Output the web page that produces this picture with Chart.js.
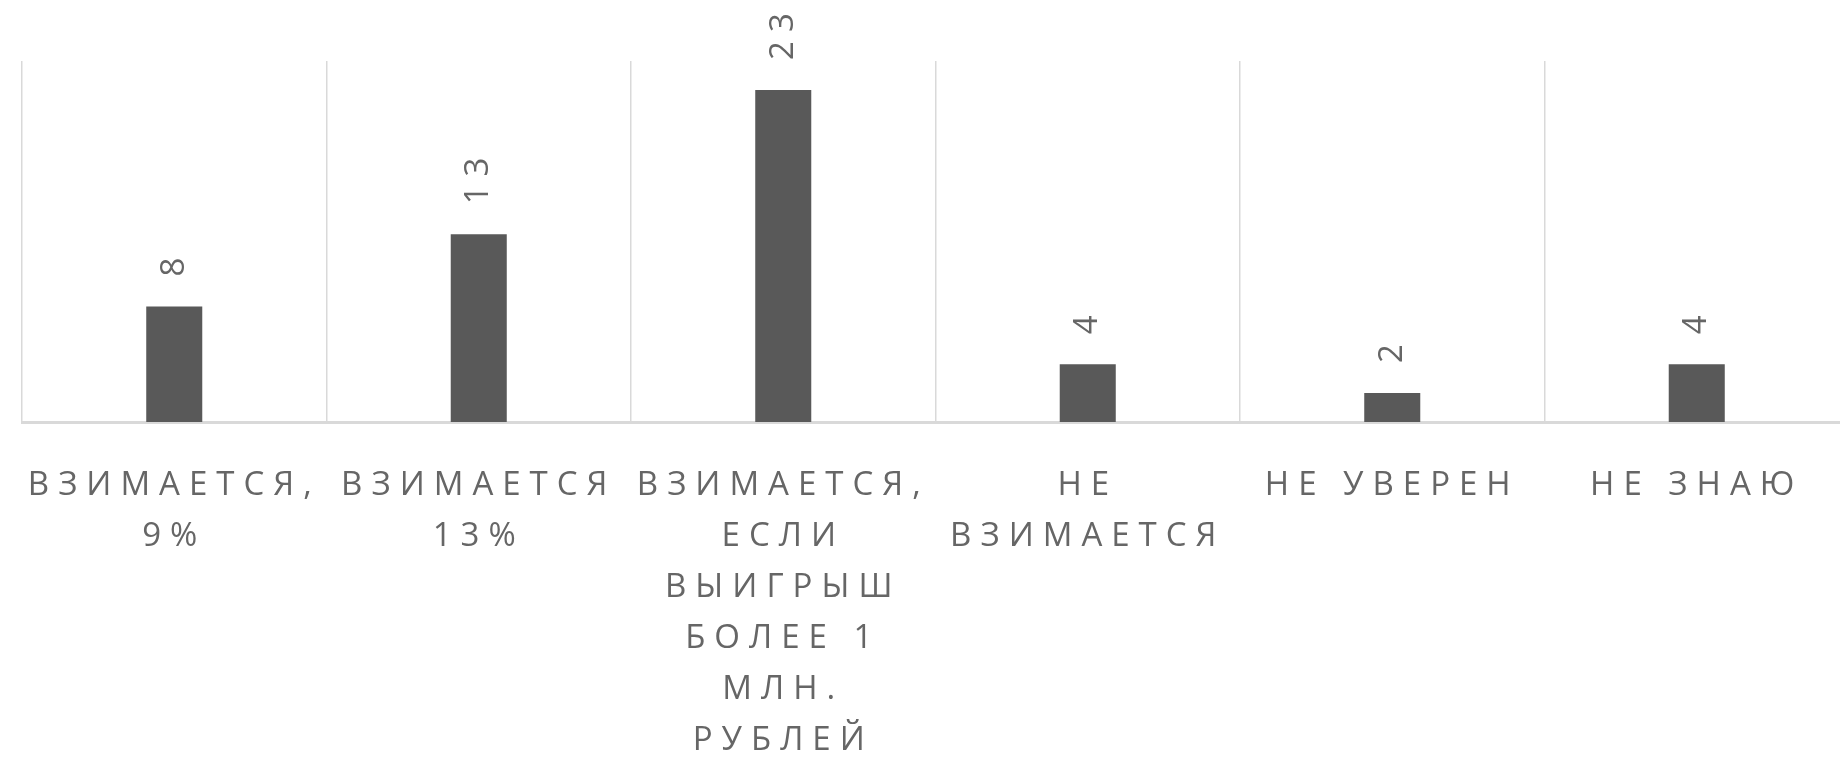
<!DOCTYPE html>
<html lang="ru">
<head>
  <meta charset="UTF-8" />
  <title>Налог на выигрыш</title>
  <script src="https://cdn.jsdelivr.net/npm/chart.js"></script>
  <style>
    html, body { margin: 0; padding: 0; background: #ffffff; overflow: hidden; }
    #wrap { width: 1840px; height: 762px; overflow: hidden; }
  </style>
</head>
<body>
  <div id="wrap">
    <!-- полотно чуть шире окна: правый край области графика уходит за кадр, как в оригинале -->
    <canvas id="chart" width="1849" height="762"></canvas>
  </div>

  <script>
    // Подписи категорий (по строкам, как в оригинале)
    const categories = [
      ['ВЗИМАЕТСЯ,', '9%'],
      ['ВЗИМАЕТСЯ', '13%'],
      ['ВЗИМАЕТСЯ,', 'ЕСЛИ', 'ВЫИГРЫШ', 'БОЛЕЕ 1', 'МЛН.', 'РУБЛЕЙ'],
      ['НЕ', 'ВЗИМАЕТСЯ'],
      ['НЕ УВЕРЕН'],
      ['НЕ ЗНАЮ']
    ];
    // Количество ответов
    const answers = [8, 13, 23, 4, 2, 4];

    const textColor = '#666666';
    const spacing = '9px';

    // разрядка букв, как в исходной диаграмме
    const letterSpacingPlugin = {
      id: 'letterSpacing',
      beforeUpdate(chart) { chart.ctx.letterSpacing = spacing; },
      beforeDraw(chart) { chart.ctx.letterSpacing = spacing; }
    };

    // подписи значений над столбцами, повернутые на 90°
    const valueLabels = {
      id: 'valueLabels',
      afterDatasetsDraw(chart) {
        const ctx = chart.ctx;
        const meta = chart.getDatasetMeta(0);
        meta.data.forEach((bar, i) => {
          ctx.save();
          ctx.letterSpacing = spacing;
          ctx.translate(bar.x, bar.y - 30);
          ctx.rotate(-Math.PI / 2);
          ctx.font = '33px "Open Sans"';
          ctx.fillStyle = textColor;
          ctx.textAlign = 'left';
          ctx.textBaseline = 'middle';
          ctx.fillText(String(answers[i]), 0, 0);
          ctx.restore();
        });
      }
    };

    new Chart(document.getElementById('chart'), {
      type: 'bar',
      data: {
        labels: categories,
        datasets: [{
          data: answers,
          backgroundColor: '#595959',
          barPercentage: 0.184,
          categoryPercentage: 1
        }]
      },
      options: {
        responsive: false,
        animation: false,
        layout: { padding: { top: 61, left: 22, right: 0, bottom: 0 } },
        plugins: {
          legend: { display: false },
          tooltip: { enabled: false }
        },
        scales: {
          x: {
            grid: {
              color: '#d9d9d9',
              lineWidth: 1.5,
              offset: true,
              drawTicks: false
            },
            border: { display: true, color: '#d9d9d9', width: 3 },
            ticks: {
              autoSkip: false,
              maxRotation: 0,
              minRotation: 0,
              padding: 38,
              color: textColor,
              font: { family: '"Open Sans"', size: 33, lineHeight: 1.545 }
            },
            afterFit(scale) {
              scale.height = 340;
              scale.paddingLeft = 0;
              scale.paddingRight = 0;
            }
          },
          y: {
            display: false,
            min: 0,
            max: 25
          }
        }
      },
      plugins: [letterSpacingPlugin, valueLabels]
    });
  </script>
</body>
</html>
